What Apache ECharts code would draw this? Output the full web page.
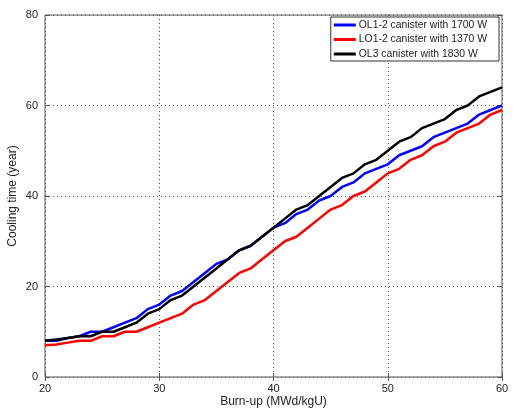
<!DOCTYPE html>
<html>
<head>
<meta charset="utf-8">
<script src="https://cdn.jsdelivr.net/npm/echarts@6/dist/echarts.min.js"></script>
<style>
html,body{margin:0;padding:0;background:#fff;}
#chart_1{width:514px;height:409px;}
</style>
</head>
<body>
<div id="chart_1"></div>
<script>
// burn-up (MWd/kgU)
var burnup = [20,21,22,23,24,25,26,27,28,29,30,31,32,33,34,35,36,37,38,39,40,
              41,42,43,44,45,46,47,48,49,50,51,52,53,54,55,56,57,58,59,60];
// cooling time (year)
var ol12 = [8,8,8.6,9,10,10,11,12,13,15,16,18,19,21,23,25,26,28,29,31,33,
            34,36,37,39,40,42,43,45,46,47,49,50,51,53,54,55,56,58,59,60];
var lo12 = [7,7.2,7.6,8,8,9,9,10,10,11,12,13,14,16,17,19,21,23,24,26,28,
            30,31,33,35,37,38,40,41,43,45,46,48,49,51,52,54,55,56,58,59];
var ol3  = [8,8.3,8.6,9,9,10,10,11,12,14,15,17,18,20,22,24,26,28,29,31,33,
            35,37,38,40,42,44,45,47,48,50,52,53,55,56,57,59,60,62,63,64];
var names = ['OL1-2 canister with 1700 W','LO1-2 canister with 1370 W','OL3 canister with 1830 W'];
var xTicks = [20,30,40,50,60];
var yTicks = [0,20,40,60,80];

function pairs(ys){
    var out = [];
    for (var i = 0; i < burnup.length; i++) {
        out.push([burnup[i], ys[i]]);
    }
    return out;
}

var font = 'Liberation Sans';
var txt = '#222';

var option1 = {
    animation: false,
    color: ['#0000ff','#ff0000','#000000'],
    textStyle: {fontFamily: font},
    grid: {left: 45, right: 12, top: 15, bottom: 32, outerBoundsMode: 'none', containLabel: false,
           show: true, borderColor: '#555', borderWidth: 1},
    legend: {
        orient: 'vertical',
        right: 15, top: 17,
        backgroundColor: '#fff',
        borderColor: '#333', borderWidth: 1, borderRadius: 0,
        padding: [3, 12, 2, 3],
        icon: 'rect',
        itemWidth: 22, itemHeight: 3, itemGap: 4.5,
        textStyle: {fontFamily: font, fontSize: 10.4, color: txt, padding: [0, 0, 0, -2]},
        data: names
    },
    xAxis: [{
        type: 'value', min: 20, max: 60, interval: 10,
        name: 'Burn-up (MWd/kgU)', nameLocation: 'middle', nameGap: 19, nameMoveOverlap: false,
        nameTextStyle: {fontFamily: font, fontSize: 12, color: txt},
        axisLine: {show: false},
        axisTick: {inside: true, length: 4, lineStyle: {color: '#555'}},
        axisLabel: {margin: 6, fontSize: 11, color: txt,
            formatter: function(v){ return xTicks.indexOf(v) >= 0 ? v : ''; }},
        splitLine: {lineStyle: {color: '#555', type: [1, 3], width: 1}}
    }, {
        type: 'value', min: 20, max: 60, interval: 10, position: 'top',
        axisLine: {show: false}, axisLabel: {show: false}, splitLine: {show: false},
        axisTick: {inside: true, length: 4, lineStyle: {color: '#555'}}
    }],
    yAxis: [{
        type: 'value', min: 0, max: 80, interval: 20,
        name: 'Cooling time (year)', nameLocation: 'middle', nameGap: 26, nameMoveOverlap: false,
        nameTextStyle: {fontFamily: font, fontSize: 12, color: txt},
        axisLine: {show: false},
        axisTick: {inside: true, length: 4, lineStyle: {color: '#555'}},
        axisLabel: {margin: 7, fontSize: 11, color: txt,
            formatter: function(v){ return yTicks.indexOf(v) >= 0 ? v : ''; }},
        splitLine: {lineStyle: {color: '#555', type: [1, 3], width: 1}}
    }, {
        type: 'value', min: 0, max: 80, interval: 20, position: 'right',
        axisLine: {show: false}, axisLabel: {show: false}, splitLine: {show: false},
        axisTick: {inside: true, length: 4, lineStyle: {color: '#555'}}
    }],
    series: [
        {name: names[0], type: 'line', symbol: 'none', lineStyle: {width: 2.5}, data: pairs(ol12)},
        {name: names[1], type: 'line', symbol: 'none', lineStyle: {width: 2.5}, data: pairs(lo12)},
        {name: names[2], type: 'line', symbol: 'none', lineStyle: {width: 2.5}, data: pairs(ol3)}
    ]
};
var myChart1 = echarts.init(document.getElementById('chart_1'));
myChart1.setOption(option1);
</script>
</body>
</html>
